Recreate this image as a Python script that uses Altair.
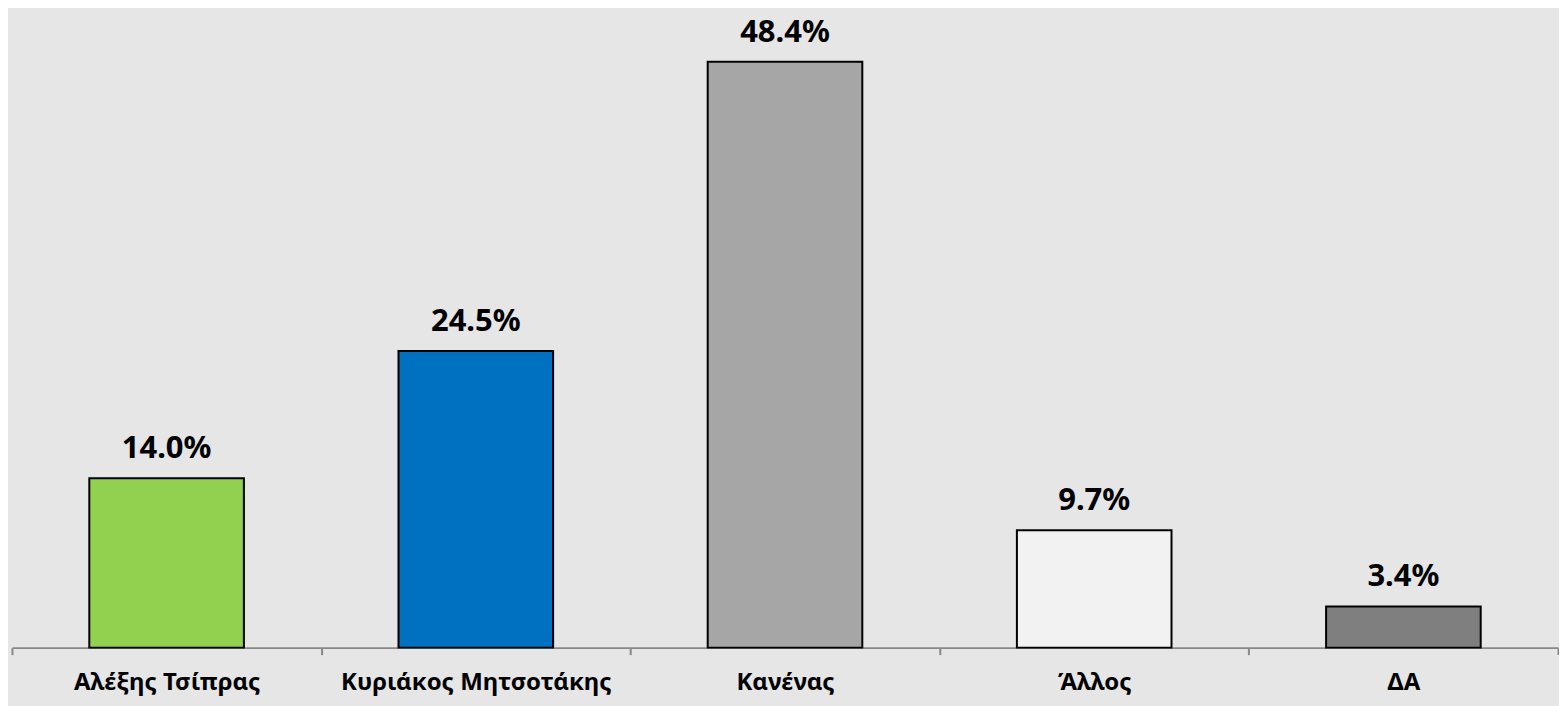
import altair as alt
import pandas as pd

categories = ["Αλέξης Τσίπρας", "Κυριάκος Μητσοτάκης", "Κανένας", "Άλλος", "ΔΑ"]
values = [14.0, 24.5, 48.4, 9.7, 3.4]
colors = ["#92D050", "#0070C0", "#A6A6A6", "#F2F2F2", "#7F7F7F"]
labels = ["14.0%", "24.5%", "48.4%", "9.7%", "3.4%"]

df = pd.DataFrame({"cat": categories, "val": values, "col": colors, "lab": labels})

FONT = "Noto Sans"

x = alt.X("cat:N", sort=categories, title=None,
          scale=alt.Scale(paddingInner=0, paddingOuter=0),
          axis=alt.Axis(labelAngle=0, labelFont=FONT, labelFontSize=24, labelFontWeight="bold",
                        labelColor="#000000", labelPadding=28, labelBaseline="middle",
                        tickBand="extent",
                        tickSize=7, tickColor="#888888", tickWidth=2,
                        domainColor="#888888", domainWidth=2, labelLimit=400))
y = alt.Y("val:Q", title=None, scale=alt.Scale(domain=[0, 52.8], nice=False, zero=True), axis=None)

bars = alt.Chart(df).mark_bar(stroke="#000000", strokeWidth=2, width={"band": 0.5}).encode(
    x=x, y=y, color=alt.Color("col:N", scale=None)
)
text = alt.Chart(df).mark_text(font=FONT, fontSize=31, fontWeight="bold", dy=-20,
                               baseline="alphabetic", color="#000000").encode(
    x=alt.X("cat:N", sort=categories), y="val:Q", text="lab:N"
)

chart = alt.layer(bars, text).properties(
    width=1548, height=640,
    padding={"left": 3, "top": 0, "right": 0, "bottom": 12},
    background="#E6E6E6",
).configure_view(stroke=None)

chart.save("out.html", embed_options={"renderer": "svg", "actions": False})
